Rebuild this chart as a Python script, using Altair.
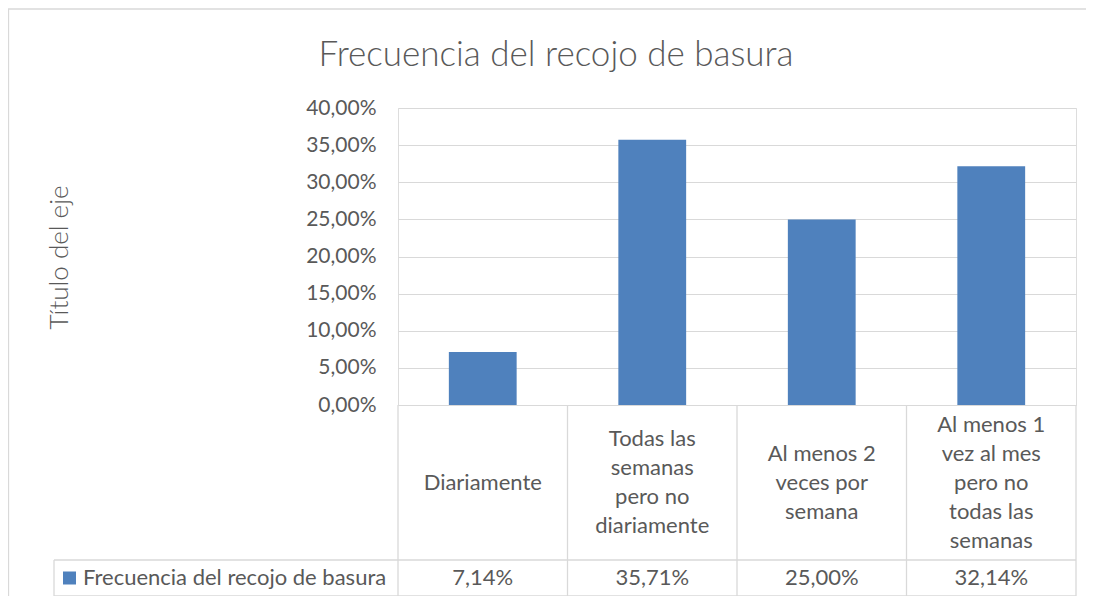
import altair as alt
import pandas as pd

# ---- data ----
categories = [
    "Diariamente",
    "Todas las semanas pero no diariamente",
    "Al menos 2 veces por semana",
    "Al menos 1 vez al mes pero no todas las semanas",
]
category_lines = [
    ["Diariamente"],
    ["Todas las", "semanas", "pero no", "diariamente"],
    ["Al menos 2", "veces por", "semana"],
    ["Al menos 1", "vez al mes", "pero no", "todas las", "semanas"],
]
values = [0.0714, 0.3571, 0.25, 0.3214]
value_labels = ["7,14%", "35,71%", "25,00%", "32,14%"]
y_ticks = [0, 0.05, 0.10, 0.15, 0.20, 0.25, 0.30, 0.35, 0.40]
series_name = "Frecuencia del recojo de basura"
chart_title = "Frecuencia del recojo de basura"
y_title = "Título del eje"

# ---- layout (pixels, relative to plot origin) ----
W, H = 678, 297
ROW1 = 452      # bottom of category row
ROW2 = 488      # bottom of values row
LEG_X = -344    # left edge of legend cell
LH = 29         # line height in category cells
TXT = "#595959"
LINE = "#D9D9D9"
BAR = "#4F81BD"
FONT = "Lato"

records = [
    {"cat": c, "lines": l, "n": len(l), "value": v, "label": s}
    for c, l, v, s in zip(categories, category_lines, values, value_labels)
]
data = alt.Data(values=records)

xscale = alt.Scale(domain=categories, paddingInner=0.6, paddingOuter=0.3)
x_enc = alt.X("cat:N", scale=xscale, axis=None, sort=categories)

bars = alt.Chart(data).mark_bar(color=BAR).encode(
    x=x_enc,
    y=alt.Y(
        "value:Q",
        scale=alt.Scale(domain=[0, 0.4], nice=False, zero=True),
        axis=alt.Axis(
            values=y_ticks,
            labelExpr="replace(format(datum.value, '.2%'), '.', ',')",
            grid=True,
            gridColor=LINE,
            gridWidth=1,
            domain=False,
            ticks=False,
            labelFontSize=21,
            labelColor=TXT,
            labelFont=FONT,
            labelPadding=22,
            title=y_title,
            titleFont=FONT,
            titleFontSize=26,
            titleFontWeight=300,
            titleColor=TXT,
            titleAngle=270,
            titleBaseline="middle",
            titleX=-339,
            titleY=149,
        ),
    ),
)

cat_text = (
    alt.Chart(data)
    .transform_calculate(ty=f"{(H + ROW1) / 2} - (datum.n - 1) * {LH / 2}")
    .mark_text(font=FONT, fontSize=22, color=TXT, lineHeight=LH, baseline="middle", align="center")
    .encode(x=x_enc, y=alt.Y("ty:Q", scale=None), text="lines:N")
)

val_text = alt.Chart(data).mark_text(
    font=FONT, fontSize=22, color=TXT, baseline="middle", align="center"
).encode(x=x_enc, y=alt.value((ROW1 + ROW2) / 2), text="label:N")

legend_df = pd.DataFrame({"name": [series_name]})
legend_sq = alt.Chart(legend_df).mark_square(size=169, color=BAR, opacity=1).encode(
    x=alt.value(LEG_X + 15.5), y=alt.value((ROW1 + ROW2) / 2)
)
legend_txt = alt.Chart(legend_df).mark_text(
    font=FONT, fontSize=22, color=TXT, baseline="middle", align="left"
).encode(x=alt.value(LEG_X + 29), y=alt.value((ROW1 + ROW2) / 2), text="name:N")

title_df = pd.DataFrame({"t": [chart_title]})
title_txt = alt.Chart(title_df).mark_text(
    font=FONT, fontSize=35, fontWeight=300, color=TXT, baseline="middle", align="center"
).encode(x=alt.value(158), y=alt.value(-53), text="t:N")

# table grid lines and outer frame
step = W / len(categories)
vlines = pd.DataFrame(
    [{"x": LEG_X, "y1": ROW1, "y2": ROW2}]
    + [{"x": i * step, "y1": H, "y2": ROW2} for i in range(len(categories) + 1)]
    + [{"x": -389.5, "y1": -99, "y2": 520}]
)
hlines = pd.DataFrame(
    [
        {"y": ROW1, "x1": LEG_X, "x2": W},
        {"y": ROW2, "x1": LEG_X, "x2": W},
        {"y": -99, "x1": -390, "x2": 720},
    ]
)
vrules = alt.Chart(vlines).mark_rule(color=LINE, strokeWidth=1.3).encode(
    x=alt.X("x:Q", scale=None),
    y=alt.Y("y1:Q", scale=None),
    y2="y2:Q",
)
hrules = alt.Chart(hlines).mark_rule(color=LINE, strokeWidth=1.3).encode(
    x=alt.X("x1:Q", scale=None),
    x2="x2:Q",
    y=alt.Y("y:Q", scale=None),
)

chart = (
    alt.layer(vrules, hrules, bars, cat_text, val_text, legend_sq, legend_txt, title_txt)
    .resolve_scale(x="independent", y="independent")
    .properties(
        width=W,
        height=H,
        padding={"left": 390, "top": 100, "right": 10, "bottom": 191},
        autosize=alt.AutoSizeParams(type="none"),
        background="white",
    )
    .configure_view(strokeWidth=0)
    .configure(font=FONT)
)

chart.save("out.html", embed_options={"renderer": "svg", "actions": False})
